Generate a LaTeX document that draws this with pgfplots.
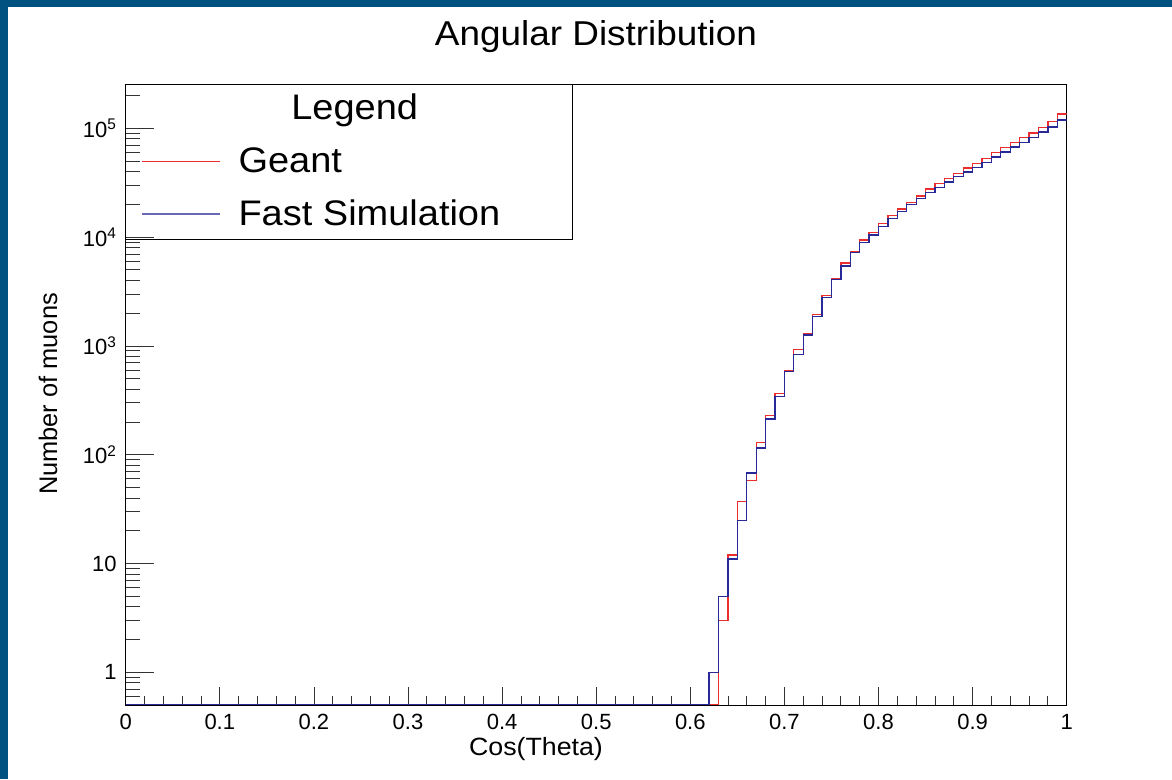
\documentclass[border=0pt]{standalone}
\usepackage{pgfplots}
\usepackage{pgfplotstable}
\pgfplotsset{compat=1.18}
\usepackage{fontspec}
\setmainfont{Liberation Sans}

\definecolor{slideblue}{RGB}{1,82,128}
\definecolor{geantred}{RGB}{235,45,45}
\definecolor{fastblue}{RGB}{40,40,150}

% Bin contents per 0.01 bin of cos(theta); bins before the first filled one
% sit on the lower edge of the log axis (0.5).
\pgfplotstableread{
x      n
0.00   0.5
0.63   3
0.64   12
0.65   37
0.66   58
0.67   129
0.68   230
0.69   367
0.70   597
0.71   931
0.72   1306
0.73   1936
0.74   2893
0.75   4180
0.76   5780
0.77   7345
0.78   9400
0.79   11070
0.80   13390
0.81   15860
0.82   18130
0.83   20880
0.84   23860
0.85   27680
0.86   30970
0.87   34700
0.88   38560
0.89   43150
0.90   47670
0.91   52970
0.92   59680
0.93   66370
0.94   73800
0.95   82000
0.96   90550
0.97   101400
0.98   115100
0.99   135300
1.00   135300
}\geant

\pgfplotstableread{
x      n
0.00   0.5
0.62   1
0.63   5
0.64   11
0.65   25
0.66   68
0.67   115
0.68   213
0.69   341
0.70   580
0.71   837
0.72   1259
0.73   1855
0.74   2797
0.75   4095
0.76   5426
0.77   7247
0.78   8886
0.79   10450
0.80   12470
0.81   14890
0.82   17110
0.83   19850
0.84   22530
0.85   25590
0.86   28690
0.87   32090
0.88   35900
0.89   39650
0.90   43770
0.91   48700
0.92   54500
0.93   60600
0.94   67300
0.95   74300
0.96   82600
0.97   92400
0.98   102800
0.99   119200
1.00   119200
}\fastsim

\begin{document}
\begin{tikzpicture}[x=1pt,y=1pt]
% slide background with its blue frame on the left and top
\fill[slideblue] (0,0) rectangle (1172,779);
\fill[white] (8,0) rectangle (1172,772.3);

% legend box (drawn first, the curves never reach it)
\draw[black, line width=0.9pt] (125.7,540) rectangle (572,694.3);
\draw[draw=geantred, line width=1.2pt] (141.7,617.3) -- (220,617.3);
\draw[draw=fastblue!70, line width=1.2pt] (141.7,565) -- (220,565);

% histograms and x axis
\begin{axis}[
  at={(125.7pt,74pt)}, anchor=south west,
  scale only axis, width=941pt, height=620.3pt,
  xmin=0, xmax=1, ymode=log, ymin=0.5, ymax=2.52e5,
  axis line style={black, line width=0.9pt},
  tick align=inside, xtick pos=bottom, ytick pos=left,
  xtick={0,0.1,0.2,0.3,0.4,0.5,0.6,0.7,0.8,0.9,1},
  xticklabels={0,0.1,0.2,0.3,0.4,0.5,0.6,0.7,0.8,0.9,1},
  minor x tick num=4,
  ytick=\empty, minor ytick={},
  major tick length=18pt, minor tick length=9pt,
  tick style={black!80, line width=0.8pt},
  xticklabel style={font=\fontsize{22}{26}\selectfont, inner sep=0pt, yshift=-9pt},
]
\addplot[const plot mark left, geantred, line width=1.3pt] table[x=x, y=n] {\geant};
\addplot[const plot mark left, fastblue, line width=1.3pt] table[x=x, y=n] {\fastsim};
\end{axis}

% logarithmic y axis ticks and labels
\begin{axis}[
  at={(125.7pt,74pt)}, anchor=south west,
  scale only axis, width=941pt, height=620.3pt,
  xmin=0, xmax=1, ymode=log, ymin=0.5, ymax=2.52e5,
  axis line style={draw=none},
  xtick=\empty,
  tick align=inside, ytick pos=left,
  ytick={1,10,100,1000,10000,100000},
  yticklabels={1,10,10\textsuperscript{2},10\textsuperscript{3},10\textsuperscript{4},10\textsuperscript{5}},
  minor ytick={0.6,0.7,0.8,0.9,2,3,4,5,6,7,8,9,20,30,40,50,60,70,80,90,
    200,300,400,500,600,700,800,900,2000,3000,4000,5000,6000,7000,8000,9000,
    20000,30000,40000,50000,60000,70000,80000,90000,200000},
  major tick length=28pt, minor tick length=14pt,
  tick style={black!80, line width=0.8pt},
  yticklabel style={font=\fontsize{22}{26}\selectfont, inner sep=0pt, xshift=-9pt},
]
\end{axis}

% titles
\node[font=\fontsize{34.5}{40}\selectfont, xscale=1.07, anchor=base, inner sep=0pt]
  at (596,733) {Angular Distribution};
\node[font=\fontsize{25}{30}\selectfont, xscale=1.07, anchor=base, inner sep=0pt]
  at (536,24) {Cos(Theta)};
\node[font=\fontsize{25.4}{30}\selectfont, rotate=90, anchor=center, inner sep=0pt]
  at (48,385) {Number of muons};

% legend entries
\node[font=\fontsize{35.5}{40}\selectfont, xscale=1.07, anchor=base, inner sep=0pt]
  at (354.7,659.7) {Legend};
\node[font=\fontsize{35.5}{40}\selectfont, xscale=1.07, anchor=base west, inner sep=0pt]
  at (238.3,606.3) {Geant};
\node[font=\fontsize{35.5}{40}\selectfont, xscale=1.07, anchor=base west, inner sep=0pt]
  at (238.3,553.3) {Fast Simulation};

\pgfresetboundingbox
\useasboundingbox (0,0) rectangle (1172,779);
\end{tikzpicture}
\end{document}
